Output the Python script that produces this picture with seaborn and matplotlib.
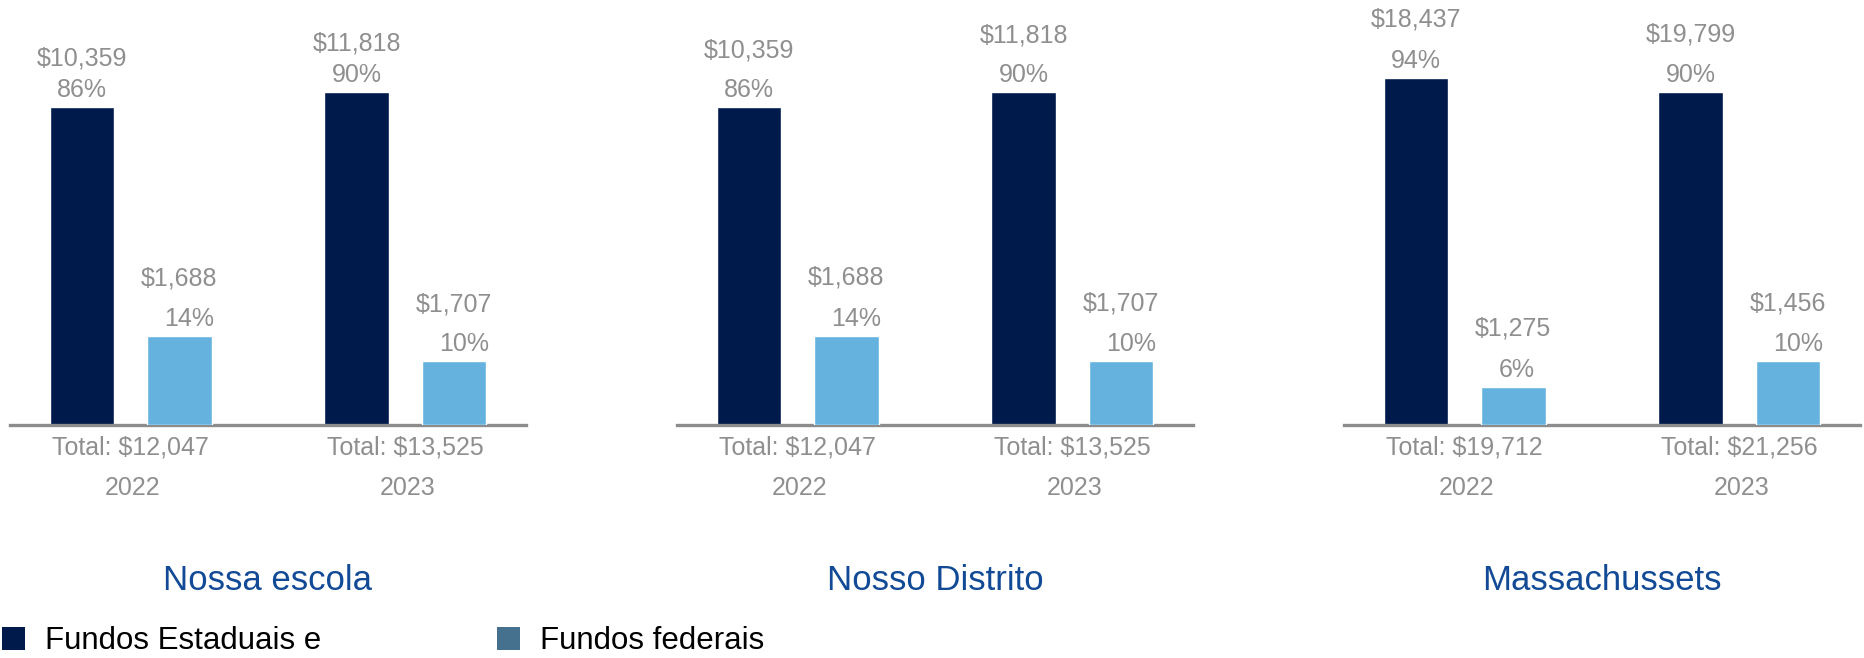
import numpy as np
import pandas as pd
import matplotlib
matplotlib.use("Agg")
import matplotlib.pyplot as plt
import seaborn as sns
from matplotlib.patches import Patch

# ---------------- data ----------------
regions = ["Nossa escola", "Nosso Distrito", "Massachussets"]
years = ["2022", "2023"]
series = ["Fundos Estaduais e", "Fundos federais"]
state_pct = [[86, 90], [86, 90], [94, 90]]
state_usd = [["$10,359", "$11,818"], ["$10,359", "$11,818"], ["$18,437", "$19,799"]]
fed_pct = [[14, 10], [14, 10], [6, 10]]
fed_usd = [["$1,688", "$1,707"], ["$1,688", "$1,707"], ["$1,275", "$1,456"]]
totals = [["Total: $12,047", "Total: $13,525"],
          ["Total: $12,047", "Total: $13,525"],
          ["Total: $19,712", "Total: $21,256"]]

# ---------------- style ----------------
DARK = "#001a4b"
LIGHT = "#66b2df"
LEG2 = "#45718f"
GRAY = "#8f8f8f"
AXIS = "#8c8c8c"
BLUE = "#124a96"

sns.set_theme(style="white")
plt.rcParams["font.family"] = ["Liberation Sans", "DejaVu Sans"]

W, H = 1865, 658
fig = plt.figure(figsize=(W / 100, H / 100), dpi=100)

state_gap = [32, 40, 41]   # label spacing (px)
fed_gap = [40, 41, 41]

for i in range(3):
    ax = fig.add_axes([(10 + 667 * i) / W, 233 / H, 516 / W, 369.5 / H])
    ax2 = ax.twinx()
    pal = {series[0]: DARK, series[1]: LIGHT}
    df_s = pd.DataFrame({"year": years, "pct": state_pct[i], "series": series[0]})
    df_f = pd.DataFrame({"year": years, "pct": fed_pct[i], "series": series[1]})
    common = dict(x="year", y="pct", hue="series", hue_order=series, order=years,
                  palette=pal, width=0.708, gap=0.336, dodge=True, errorbar=None,
                  legend=False, saturation=1)
    sns.barplot(data=df_s, ax=ax, **common)
    sns.barplot(data=df_f, ax=ax2, **common)
    ax.set_ylim(0, 100)
    ax2.set_ylim(0, 369.5 / 6.39)
    ax.set_xlim(-0.44, 1.44)

    for a in (ax, ax2):
        a.set_xlabel("")
        a.set_ylabel("")
        a.set_yticks([])
        a.set_xticks([])
        for s in a.spines.values():
            s.set_visible(False)
    ax.spines["bottom"].set_visible(True)
    ax.spines["bottom"].set_color(AXIS)
    ax.spines["bottom"].set_linewidth(2.4)
    ax.patch.set_alpha(0)
    ax2.patch.set_alpha(0)

    bars_s = sorted(ax.patches, key=lambda p: p.get_x())
    bars_f = sorted(ax2.patches, key=lambda p: p.get_x())
    for j, p in enumerate(bars_s):
        x = p.get_x() + p.get_width() / 2
        h = p.get_height()
        ax.annotate(f"{state_pct[i][j]}%", (x, h), xytext=(0, 17), textcoords="offset pixels",
                    ha="center", va="center", fontsize=18, color=GRAY, annotation_clip=False)
        ax.annotate(state_usd[i][j], (x, h), xytext=(0, 17 + state_gap[i]), textcoords="offset pixels",
                    ha="center", va="center", fontsize=18, color=GRAY, annotation_clip=False)
    for j, p in enumerate(bars_f):
        x = p.get_x() + p.get_width() / 2
        h = p.get_height()
        ax2.annotate(f"{fed_pct[i][j]}%", (x, h), xytext=(10 if fed_pct[i][j] >= 10 else 3, 17),
                     textcoords="offset pixels", ha="center", va="center", fontsize=18,
                     color=GRAY, annotation_clip=False)
        ax2.annotate(fed_usd[i][j], (x, h), xytext=(0, 17 + fed_gap[i]), textcoords="offset pixels",
                     ha="center", va="center", fontsize=18, color=GRAY, annotation_clip=False)

    for j, yr in enumerate(years):
        ax.annotate(totals[i][j], (j, 0), xycoords=("data", "axes fraction"), xytext=(0, -23),
                    textcoords="offset pixels", ha="center", va="center", fontsize=18,
                    color=GRAY, annotation_clip=False)
        ax.annotate(yr, (j, 0), xycoords=("data", "axes fraction"), xytext=(2, -63),
                    textcoords="offset pixels", ha="center", va="center", fontsize=18,
                    color=GRAY, annotation_clip=False)

    fig.text((10 + 258 + 667 * i) / W, 77 / H, regions[i], ha="center", va="center",
             fontsize=25, color=BLUE)

handles = [Patch(facecolor=DARK, edgecolor="none"), Patch(facecolor=LEG2, edgecolor="none")]
leg = fig.legend(handles=handles, labels=series, loc="lower left", bbox_to_anchor=(0, 0.0),
                 ncol=2, frameon=False, fontsize=22.5, handlelength=0.75, handleheight=0.75,
                 handletextpad=0.65, columnspacing=5.6, borderaxespad=0, borderpad=0.05)
for t in leg.get_texts():
    t.set_color("black")

fig.savefig("out.png", dpi=100)
